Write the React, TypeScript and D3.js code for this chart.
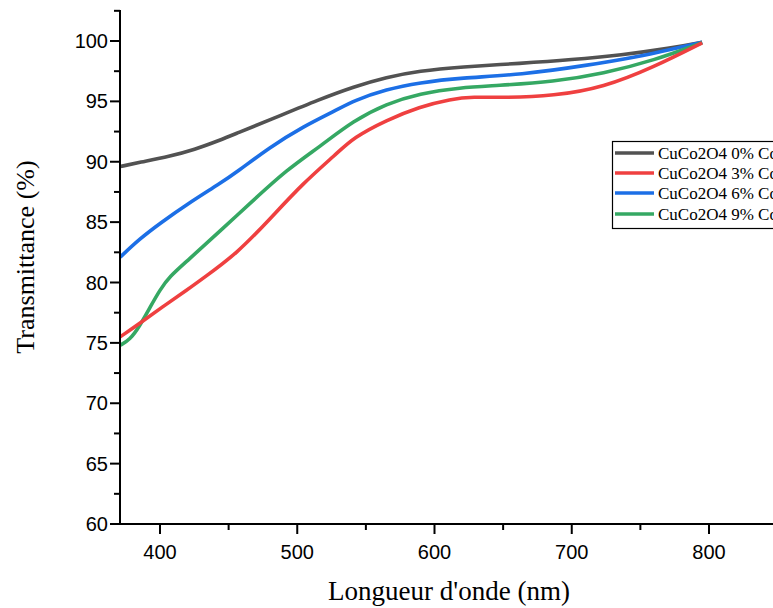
import React from "react";
import * as d3 from "d3";

const wl0 = [371, 385, 407, 425, 444, 456, 480, 517, 541, 565, 589, 619, 663, 700, 736, 772, 795];
const t0 = [89.6, 89.95, 90.45, 91.0, 91.8, 92.36, 93.46, 95.2, 96.2, 97.0, 97.52, 97.85, 98.15, 98.45, 98.84, 99.4, 99.9];

const wl3 = [371, 385, 402, 420, 432, 456, 480, 504, 529, 541, 565, 589, 612, 628, 650, 687, 723, 760, 795];
const t3 = [75.5, 76.6, 78.0, 79.4, 80.4, 82.4, 85.25, 88.2, 90.7, 92.0, 93.45, 94.55, 95.2, 95.38, 95.3, 95.45, 96.15, 97.85, 99.85];

const wl6 = [371, 385, 400, 420, 444, 456, 480, 504, 529, 541, 565, 589, 619, 663, 712, 748, 772, 795];
const t6 = [82.1, 83.6, 84.9, 86.5, 88.22, 89.15, 91.2, 92.9, 94.3, 95.05, 96.0, 96.55, 96.95, 97.2, 98.0, 98.7, 99.3, 99.9];

const wl9 = [371, 378, 385, 393, 400, 407, 420, 444, 468, 492, 517, 541, 565, 589, 619, 645, 687, 723, 760, 795];
const t9 = [74.8, 75.25, 76.35, 78.0, 79.4, 80.5, 81.8, 84.3, 86.8, 89.3, 91.3, 93.4, 94.8, 95.65, 96.15, 96.3, 96.63, 97.3, 98.4, 99.85];

const seriesNames = ["CuCo2O4 0% Co", "CuCo2O4 3% Co", "CuCo2O4 6% Co", "CuCo2O4 9% Co"];
const seriesColors = ["#525252", "#ef4040", "#1c6fe6", "#35a863"];

const yTicks = [60, 65, 70, 75, 80, 85, 90, 95, 100];
const yMinor = [62.5, 67.5, 72.5, 77.5, 82.5, 87.5, 92.5, 97.5, 102.5];
const xTicks = [400, 500, 600, 700, 800];
const xMinor = [450, 550, 650, 750];

export default function App() {
  const W = 773, H = 608;
  const x = d3.scaleLinear().domain([400, 800]).range([160, 709]);
  const y = d3.scaleLinear().domain([60, 100]).range([524, 41]);
  const xMin = x.invert(120);
  const yMax = y.invert(10);
  const data = [
    wl0.map((w, i) => [w, t0[i]]),
    wl3.map((w, i) => [w, t3[i]]),
    wl6.map((w, i) => [w, t6[i]]),
    wl9.map((w, i) => [w, t9[i]]),
  ] as [number, number][][];
  const line = d3
    .line<[number, number]>()
    .x((d) => x(d[0]))
    .y((d) => y(d[1]))
    .curve(d3.curveBasis);
  const order = [0, 2, 3, 1];
  const legY = [153, 173, 193, 214];
  return (
    <div style={{ position: "absolute", left: 0, top: 0 }}>
      <svg width={W} height={H} style={{ display: "block", background: "#fff" }}>
        <g>
          {order.map((k) => (
            <path key={k} d={line(data[k]) || ""} fill="none" stroke={seriesColors[k]} strokeWidth={3.6} strokeLinejoin="round" />
          ))}
        </g>
        {/* axes */}
        <line x1={x(xMin)} x2={x(xMin)} y1={y(yMax)} y2={y(60)} stroke="#000" strokeWidth={2} />
        <line x1={x(xMin) - 1} x2={W} y1={y(60)} y2={y(60)} stroke="#000" strokeWidth={2} />
        {yTicks.map((t) => (
          <g key={t}>
            <line x1={x(xMin) - 10} x2={x(xMin)} y1={y(t)} y2={y(t)} stroke="#000" strokeWidth={2} />
            <text x={x(xMin) - 12} y={y(t)} dy="0.35em" textAnchor="end" fontFamily="Liberation Sans, Arial, sans-serif" fontSize={20}>
              {t}
            </text>
          </g>
        ))}
        {yMinor.map((t) => (
          <line key={t} x1={x(xMin) - 6} x2={x(xMin)} y1={y(t)} y2={y(t)} stroke="#000" strokeWidth={2} />
        ))}
        {xTicks.map((t) => (
          <g key={t}>
            <line x1={x(t)} x2={x(t)} y1={y(60)} y2={y(60) + 10} stroke="#000" strokeWidth={2} />
            <text x={x(t)} y={y(60) + 35} textAnchor="middle" fontFamily="Liberation Sans, Arial, sans-serif" fontSize={20}>
              {t}
            </text>
          </g>
        ))}
        {xMinor.map((t) => (
          <line key={t} x1={x(t)} x2={x(t)} y1={y(60)} y2={y(60) + 6} stroke="#000" strokeWidth={2} />
        ))}
        <text x={449} y={600} textAnchor="middle" fontFamily="Liberation Serif, Times New Roman, serif" fontSize={27}>
          Longueur d'onde (nm)
        </text>
        <text transform="translate(34,257) rotate(-90)" textAnchor="middle" fontFamily="Liberation Serif, Times New Roman, serif" fontSize={26}>
          Transmittance (%)
        </text>
        {/* legend */}
        <rect x={612.5} y={141.5} width={200} height={87} fill="#fff" stroke="#000" strokeWidth={1.2} />
        {seriesNames.map((n, i) => (
          <g key={n}>
            <line x1={615} x2={654} y1={legY[i]} y2={legY[i]} stroke={seriesColors[i]} strokeWidth={3.6} />
            <text x={658} y={legY[i] + 5.5} fontFamily="Liberation Serif, Times New Roman, serif" fontSize={17}>
              {n}
            </text>
          </g>
        ))}
      </svg>
    </div>
  );
}
